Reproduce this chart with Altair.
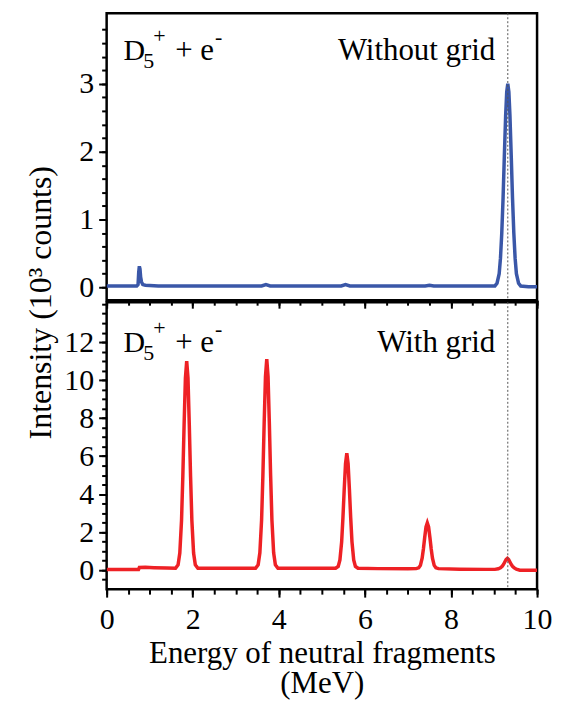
import altair as alt
import pandas as pd

# ---------------- data ----------------
# Top panel: "Without grid" (blue)
energy_top = [0.0, 0.5, 0.70, 0.73, 0.745, 0.76, 0.775, 0.79, 0.81, 0.84,
              0.9, 1.2, 2.0, 3.0, 3.6, 3.7, 3.8, 4.5, 5.45, 5.55,
              5.65, 6.5, 7.4, 7.5, 7.6, 8.5, 8.95, 9.02, 9.07, 9.12,
              9.15, 9.18, 9.21, 9.24, 9.27, 9.295, 9.32, 9.345, 9.37, 9.40,
              9.43, 9.46, 9.49, 9.52, 9.57, 9.62, 9.8, 10.0]
counts_top = [0.02, 0.02, 0.02, 0.04, 0.22, 0.31, 0.27, 0.15, 0.08, 0.04,
              0.03, 0.02, 0.02, 0.02, 0.02, 0.04, 0.02, 0.02, 0.02, 0.04,
              0.02, 0.02, 0.02, 0.03, 0.02, 0.02, 0.02, 0.02, 0.06, 0.20,
              0.43, 0.80, 1.31, 1.94, 2.53, 2.88, 3.00, 2.88, 2.53, 1.94,
              1.31, 0.80, 0.43, 0.20, 0.06, 0.02, 0.01, 0.01]

# Bottom panel: "With grid" (red)
energy_bottom = (
    [0.0, 0.5, 0.74, 0.76, 0.9, 1.1, 1.4]
    + [1.60, 1.66, 1.70, 1.74, 1.77, 1.80, 1.83, 1.86, 1.89, 1.92, 1.95, 1.98, 2.02, 2.06, 2.12]
    + [2.5, 3.0]
    + [3.46, 3.52, 3.56, 3.60, 3.63, 3.66, 3.69, 3.72, 3.75, 3.78, 3.81, 3.84, 3.88, 3.92, 3.98]
    + [4.4, 5.0]
    + [5.32, 5.38, 5.42, 5.46, 5.49, 5.52, 5.55, 5.58, 5.61, 5.64, 5.67, 5.70, 5.74, 5.78, 5.84]
    + [6.3, 7.0]
    + [7.19, 7.25, 7.29, 7.33, 7.36, 7.39, 7.42, 7.45, 7.48, 7.51, 7.54, 7.57, 7.61, 7.65, 7.71]
    + [8.2, 8.8]
    + [9.02, 9.10, 9.15, 9.19, 9.22, 9.25, 9.28, 9.31, 9.34, 9.37, 9.40, 9.43, 9.47, 9.52, 9.60]
    + [9.8, 10.0]
)
counts_bottom = (
    [0.03, 0.03, 0.03, 0.14, 0.15, 0.13, 0.11]
    + [0.10, 0.28, 0.90, 2.62, 4.93, 7.68, 10.10, 11.00, 10.10, 7.68, 4.93, 2.62, 0.90, 0.28, 0.10]
    + [0.10, 0.10]
    + [0.10, 0.28, 0.91, 2.64, 4.97, 7.76, 10.19, 11.10, 10.19, 7.76, 4.97, 2.64, 0.91, 0.28, 0.10]
    + [0.10, 0.10]
    + [0.10, 0.20, 0.54, 1.49, 2.76, 4.27, 5.60, 6.15, 5.60, 4.27, 2.76, 1.49, 0.54, 0.20, 0.10]
    + [0.08, 0.07]
    + [0.08, 0.12, 0.25, 0.63, 1.13, 1.73, 2.27, 2.48, 2.27, 1.73, 1.13, 0.63, 0.25, 0.12, 0.08]
    + [0.05, 0.04]
    + [0.04, 0.07, 0.12, 0.20, 0.30, 0.43, 0.56, 0.62, 0.56, 0.43, 0.30, 0.20, 0.12, 0.05, 0.00]
    + [0.00, 0.00]
)

marker_energy = [9.32]

x_major = [0, 2, 4, 6, 8, 10]
x_ticks = [0, 0.5, 1, 1.5, 2, 2.5, 3, 3.5, 4, 4.5, 5, 5.5, 6, 6.5, 7, 7.5, 8, 8.5, 9, 9.5, 10]
top_y_major = [0, 1, 2, 3]
top_y_ticks = [0, 0.2, 0.4, 0.6, 0.8, 1, 1.2, 1.4, 1.6, 1.8, 2, 2.2, 2.4, 2.6, 2.8,
               3, 3.2, 3.4, 3.6, 3.8]
bottom_y_major = [0, 2, 4, 6, 8, 10, 12]
bottom_y_ticks = [-0.5, 0, 0.5, 1, 1.5, 2, 2.5, 3, 3.5, 4, 4.5, 5, 5.5, 6, 6.5, 7, 7.5,
                  8, 8.5, 9, 9.5, 10, 10.5, 11, 11.5, 12, 12.5, 13, 13.5, 14]

top_domain = [-0.19, 4.04]
bottom_domain = [-1.0, 14.1]

# annotation anchor positions (energy, intensity)
label_left_x = [0.39]
label_right_x = [9.03]
top_label_y = [3.35]
bottom_label_y = [11.48]
top_text = ["Without grid"]
bottom_text = ["With grid"]

# ---------------- styling ----------------
FONT = "Liberation Serif"
BLUE = "#3A57A8"
RED = "#EE2125"
FS = 30
ANN = 31
SUB = 22

top_df = pd.DataFrame({"energy": energy_top, "counts": counts_top})
bottom_df = pd.DataFrame({"energy": energy_bottom, "counts": counts_bottom})
marker_df = pd.DataFrame({"energy": marker_energy})

X_SCALE = alt.Scale(domain=[0, 10], nice=False, zero=False)


def major_x_axis(show_labels):
    common = dict(values=x_major, grid=False, domain=False, tickColor="black", tickWidth=2,
                  tickSize=8, orient="bottom")
    if show_labels:
        return alt.Axis(**common, format="d", labelPadding=8, labelFlush=False,
                        title=["Energy of neutral fragments", "(MeV)"], titleFontSize=31,
                        titleLineHeight=30, titlePadding=4)
    return alt.Axis(**common, labels=False, title=None)


MINOR_X_AXIS = alt.Axis(values=x_ticks, grid=False, domain=False, tickColor="black",
                        tickWidth=2, tickSize=5, labels=False, title=None, orient="bottom")


def panel(df, color, domain, ymajor, yticks, ytitle, label_y, right_text, show_x_labels):
    ys = alt.Scale(domain=domain, nice=False, zero=False)
    common = dict(values=ymajor, grid=False, domain=False, tickColor="black", tickWidth=2,
                  tickSize=8, format="d", labelPadding=5, labelFlush=False, orient="left")
    if ytitle:
        yaxis = alt.Axis(**common, title=ytitle, titleFontSize=32, titleX=-56, titleY=0,
                         titleAngle=270, titleAlign="center", titleBaseline="alphabetic")
    else:
        yaxis = alt.Axis(**common, title=None)
    minor_y = alt.Axis(values=yticks, grid=False, domain=False, tickColor="black",
                       tickWidth=2, tickSize=5, labels=False, title=None, orient="left")

    line = alt.Chart(df).mark_line(color=color, strokeWidth=3.5, clip=True).encode(
        x=alt.X("energy:Q", scale=X_SCALE, axis=major_x_axis(show_x_labels)),
        y=alt.Y("counts:Q", scale=ys, axis=yaxis))
    rule = alt.Chart(marker_df).mark_rule(color="#555555", strokeDash=[2, 2],
                                          strokeWidth=1).encode(
        x=alt.X("energy:Q", scale=X_SCALE, axis=None))
    left_df = pd.DataFrame({"energy": label_left_x, "counts": label_y})
    right_df = pd.DataFrame({"energy": label_right_x, "counts": label_y, "t": right_text})

    def txt(text, dx, dy, size):
        return alt.Chart(left_df).mark_text(text=text, align="left", baseline="alphabetic",
                                            fontSize=size, dx=dx, dy=dy).encode(
            x=alt.X("energy:Q", scale=X_SCALE, axis=None),
            y=alt.Y("counts:Q", scale=ys, axis=None))

    formula = (txt("D", 0, 0, 30) + txt("5", 20, 8, SUB) + txt("+", 30, -17, SUB)
               + txt("+ e", 52, 0, ANN) + txt("-", 92, -16, SUB))
    right = alt.Chart(right_df).mark_text(align="right", baseline="alphabetic",
                                          fontSize=ANN).encode(
        x=alt.X("energy:Q", scale=X_SCALE, axis=MINOR_X_AXIS),
        y=alt.Y("counts:Q", scale=ys, axis=minor_y),
        text="t:N")
    return alt.layer(line, rule, formula, right).resolve_axis(
        x="independent", y="independent").properties(width=432, height=288)


top = panel(top_df, BLUE, top_domain, top_y_major, top_y_ticks, None,
            top_label_y, top_text, False)

bottom = panel(bottom_df, RED, bottom_domain, bottom_y_major, bottom_y_ticks,
               "Intensity (10³ counts)", bottom_label_y, bottom_text, True)

chart = alt.vconcat(top, bottom, spacing=2, bounds="flush").properties(
    padding={"left": 15, "top": 2, "right": 0, "bottom": 0}
).configure_view(stroke="black", strokeWidth=2.5, fill="transparent").configure_axis(
    labelFont=FONT, labelFontSize=FS, labelColor="black", titleFont=FONT,
    titleFontSize=FS, titleFontWeight="normal", titleColor="black"
).configure_text(font=FONT, color="black")

chart.save("out.html", embed_options={"renderer": "svg", "actions": False})
